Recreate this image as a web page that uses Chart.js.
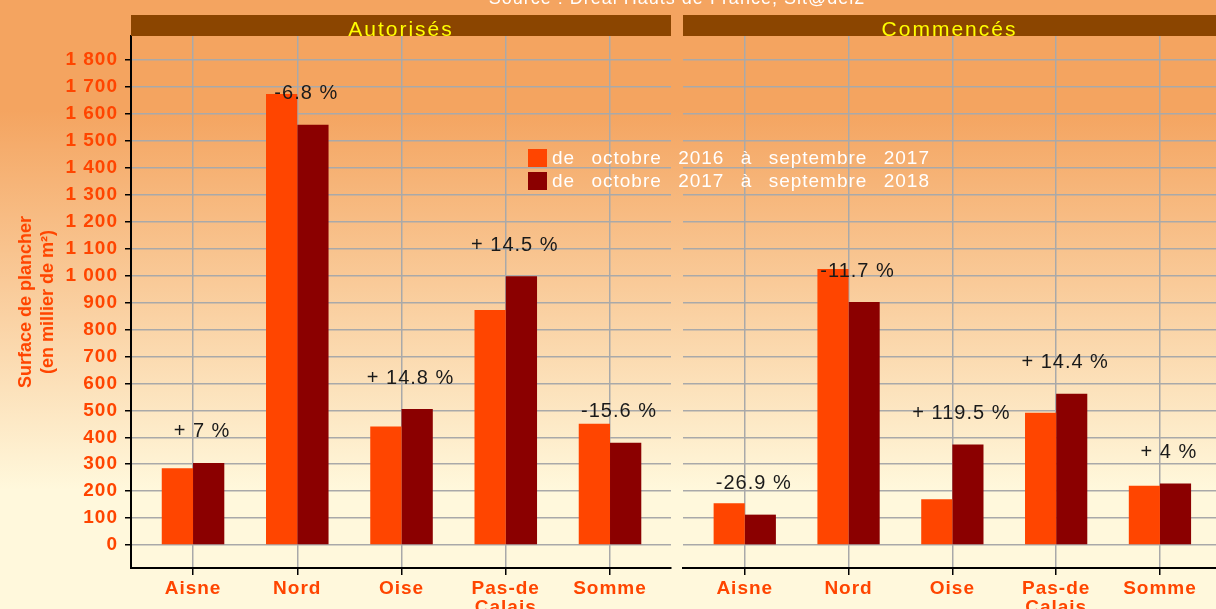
<!DOCTYPE html>
<html><head><meta charset="utf-8">
<script src="https://cdn.jsdelivr.net/npm/chart.js@4.4.0/dist/chart.umd.min.js"></script>
<style>
html,body{margin:0;padding:0;}
body{width:1216px;height:609px;overflow:hidden;position:relative;
background:linear-gradient(to bottom,#F4A460 0px,#F4A460 110px,#FFF8DC 490px,#FFF8DC 609px);}
canvas{position:absolute;left:0;top:0;}
</style></head><body>
<canvas id="cL" width="1216" height="609"></canvas>
<canvas id="cR" width="1216" height="609"></canvas>
<script>
const categories = ['Aisne','Nord','Oise','Pas-de-Calais','Somme'];
const tickLabels = ['Aisne','Nord','Oise',['Pas-de','Calais'],'Somme'];
const seriesNames = ['de octobre 2016 à septembre 2017','de octobre 2017 à septembre 2018'];
const autorises2017 = [285,1674,440,872,450];
const autorises2018 = [305,1560,505,998,380];
const commences2017 = [155,1024,170,491,220];
const commences2018 = [113,902,373,562,229];
const autorisesPct = ['+ 7 %','-6.8 %','+ 14.8 %','+ 14.5 %','-15.6 %'];
const commencesPct = ['-26.9 %','-11.7 %','+ 119.5 %','+ 14.4 %','+ 4 %'];
const yTicks = [0,100,200,300,400,500,600,700,800,900,1000,1100,1200,1300,1400,1500,1600,1700,1800];
const panelTitles = ['Autorisés','Commencés'];
const yTitle = ['Surface de plancher','(en millier de m²)'];
const sourceText = 'Source : Dreal Hauts de France, Sit@del2';

const FONT = 'Liberation Sans, Arial, sans-serif';
const C1 = '#FF4500', C2 = '#8B0000', LABEL = '#FF4500';
const fmt = v => String(v).replace(/\B(?=(\d{3})+(?!\d))/g, ' ');

function panelPlugin(title, pct, isLeft) {
  return {
    id: 'panel' + (isLeft ? 'L' : 'R'),
    beforeDraw(chart) { chart.ctx.letterSpacing = '1px'; },
    afterDraw(chart) {
      const ctx = chart.ctx, a = chart.chartArea;
      const xs = chart.scales.x, ys = chart.scales.y;
      ctx.save();
      // strip
      ctx.fillStyle = '#8B4500';
      ctx.fillRect(a.left, 15, a.right - a.left, 21);
      ctx.letterSpacing = '2px';
      ctx.font = '21px ' + FONT;
      ctx.fillStyle = '#FFFF00';
      ctx.textAlign = 'center';
      ctx.textBaseline = 'alphabetic';
      ctx.fillText(title, (a.left + a.right) / 2, 35.5);
      // percentage labels
      ctx.letterSpacing = '1px';
      ctx.font = '20px ' + FONT;
      ctx.fillStyle = '#1A1A1A';
      ctx.textBaseline = 'middle';
      const d2 = chart.data.datasets[1].data;
      pct.forEach((t, i) => {
        const x = xs.getPixelForValue(i + 1) + 9;
        const y = ys.getPixelForValue(d2[i].y + 115);
        ctx.fillText(t, x, y);
      });
      if (isLeft) {
        // source
        ctx.font = '18px ' + FONT;
        ctx.fillStyle = '#FFFFFF';
        ctx.textBaseline = 'alphabetic';
        ctx.fillText(sourceText, 677, 4);
        // y title
        ctx.letterSpacing = '0px';
        ctx.font = 'bold 18px ' + FONT;
        ctx.fillStyle = LABEL;
        ctx.translate(0, 302);
        ctx.rotate(-Math.PI / 2);
        ctx.textBaseline = 'middle';
        ctx.fillText(yTitle[0], 0, 26);
        ctx.fillText(yTitle[1], 0, 48);
      } else {
        // legend
        const cols = [C1, C2];
        ctx.font = '19px ' + FONT;
        ctx.letterSpacing = '1px';
        ctx.textAlign = 'left';
        ctx.textBaseline = 'middle';
        seriesNames.forEach((n, i) => {
          const y0 = 149 + i * 23;
          ctx.fillStyle = cols[i];
          ctx.fillRect(528, y0, 19, 18);
          ctx.wordSpacing = '0px';
          const w = ctx.measureText(n).width;
          const gaps = n.split(' ').length - 1;
          ctx.wordSpacing = ((378 - w) / gaps) + 'px';
          ctx.fillStyle = '#FFFFFF';
          ctx.fillText(n, 552, y0 + 10);
        });
      }
      ctx.restore();
    }
  };
}

function makeChart(id, d1, d2, pct, title, isLeft) {
  return new Chart(document.getElementById(id), {
    type: 'bar',
    data: {
      datasets: [
        { label: seriesNames[0], data: d1.map((v, i) => ({ x: i + 1, y: v })), backgroundColor: C1, borderWidth: 0, categoryPercentage: 0.6, barPercentage: 1.0 },
        { label: seriesNames[1], data: d2.map((v, i) => ({ x: i + 1, y: v })), backgroundColor: C2, borderWidth: 0, categoryPercentage: 0.6, barPercentage: 1.0 }
      ]
    },
    options: {
      responsive: false,
      animation: false,
      layout: { padding: { top: 36, bottom: 0, left: isLeft ? 0 : 683, right: isLeft ? 545 : 0 } },
      plugins: { legend: { display: false }, tooltip: { enabled: false }, title: { display: false } },
      scales: {
        x: {
          type: 'linear',
          offset: false,
          min: 0.405,
          max: isLeft ? 5.585 : 5.54,
          afterBuildTicks: s => { s.ticks = categories.map((c, i) => ({ value: i + 1 })); },
          afterFit: s => { s.height = 41; },
          ticks: {
            autoSkip: false, maxRotation: 0, minRotation: 0, padding: 4,
            color: LABEL,
            font: { family: FONT, size: 19, weight: 'bold', lineHeight: 1.0 },
            callback: v => tickLabels[v - 1]
          },
          grid: { offset: false, color: '#A9A9A9', lineWidth: 1.5, tickColor: '#000000', tickLength: 7, tickWidth: 1.5, drawTicks: true },
          border: { display: true, color: '#000000', width: 2 }
        },
        y: {
          min: -85,
          max: 1889,
          afterBuildTicks: s => { s.ticks = yTicks.map(v => ({ value: v })); },
          afterFit: s => { s.width = isLeft ? 131 : 0; },
          ticks: {
            display: isLeft, padding: 7,
            color: LABEL,
            font: { family: FONT, size: 19, weight: 'bold' },
            callback: v => fmt(v)
          },
          grid: { color: '#A9A9A9', lineWidth: 1.5, tickColor: '#000000', tickLength: 6, tickWidth: 1.5, drawTicks: isLeft },
          border: { display: isLeft, color: '#000000', width: 2 }
        }
      }
    },
    plugins: [panelPlugin(title, pct, isLeft)]
  });
}

makeChart('cL', autorises2017, autorises2018, autorisesPct, panelTitles[0], true);
makeChart('cR', commences2017, commences2018, commencesPct, panelTitles[1], false);
</script>
</body></html>
